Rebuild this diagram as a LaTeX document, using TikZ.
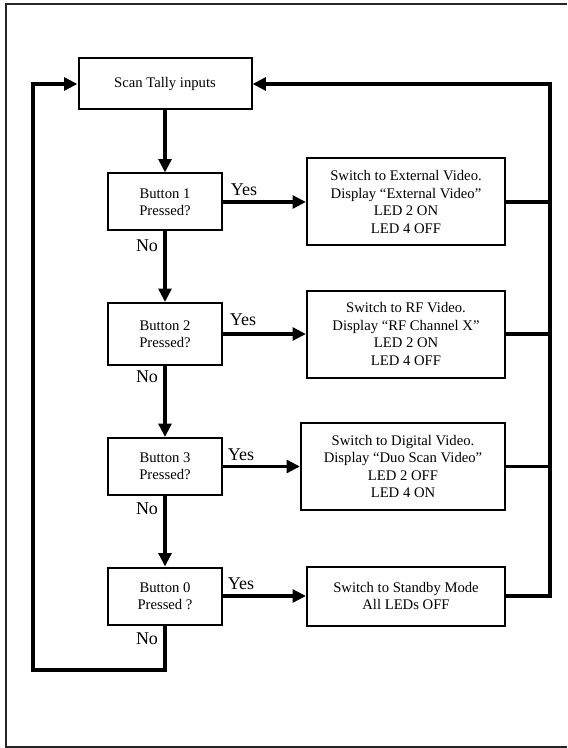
\documentclass[tikz,border=0pt]{standalone}
\usepackage{fontspec}
\setmainfont{Liberation Serif}
\usepackage{tikz}
\usetikzlibrary{arrows.meta, positioning}

\begin{document}
\begin{tikzpicture}[x=0.75pt, y=-0.75pt,
    box/.style={draw, line width=1.5pt, align=center, inner sep=2pt, font=\fontsize{11}{13.1}\selectfont},
    btnbox/.style={box, minimum width=85.5pt, minimum height=42.75pt},
    actbox/.style={box, minimum width=148.5pt, minimum height=65.25pt},
    conn/.style={line width=2.5pt},
    arr/.style={conn, -{Triangle[length=10pt, width=9.5pt]}},
    lbl/.style={font=\fontsize{13.5}{16}\selectfont, inner sep=0pt}
]
    \useasboundingbox (0,0) rectangle (567,748);

    % Page frame
    \draw[line width=1.5pt, black!85] (567,4) -| (6,747) -- (567,747);

    % Start
    \node[box, minimum width=129.75pt, minimum height=38.25pt] (scan) at (165,84) {Scan Tally inputs};

    % Button checks
    \node[btnbox] (b1) at (165,202) {Button 1\\Pressed?};
    \node[btnbox, minimum height=46.5pt] (b2) at (165,334) {Button 2\\Pressed?};
    \node[btnbox] (b3) at (165,466.5) {Button 3\\Pressed?};
    \node[btnbox] (b0) at (165,596) {Button 0\\Pressed ?};

    % Actions
    \node[actbox] (ext) at (406,202) {Switch to External Video.\\Display “External Video”\\LED 2 ON\\LED 4 OFF};
    \node[actbox] (rf) at (406,334) {Switch to RF Video.\\Display “RF Channel X”\\LED 2 ON\\LED 4 OFF};
    \node[actbox, minimum width=153pt] (dig) at (403,466.5) {Switch to Digital Video.\\Display “Duo Scan Video”\\LED 2 OFF\\LED 4 ON};
    \node[actbox, minimum height=44.25pt] (stby) at (406,596) {Switch to Standby Mode\\All LEDs OFF};

    % Yes / No labels
    \node[lbl] (y1) at (244,190) {Yes};
    \node[lbl] (y2) at (243,320) {Yes};
    \node[lbl] (y3) at (241,455) {Yes};
    \node[lbl] (y0) at (241,584) {Yes};
    \node[lbl] (n1) at (147,246) {No};
    \node[lbl] (n2) at (147,377) {No};
    \node[lbl] (n3) at (147,508.5) {No};
    \node[lbl] (n0) at (147,638.5) {No};

    % Corners of the return loops
    \coordinate (rail) at (550,84);
    \coordinate (loop) at (33,670);

    % Main flow
    \draw[arr] (scan) -- (b1);
    \draw[arr] (b1) -- (b2);
    \draw[arr] (b2) -- (b3);
    \draw[arr] (b3) -- (b0);
    \draw[arr] (b1) -- (ext);
    \draw[arr] (b2) -- (rf);
    \draw[arr] (b3) -- (dig);
    \draw[arr] (b0) -- (stby);

    % Return to scanning
    \draw[arr] (stby.east) -| (rail) -- (scan.east);
    \draw[conn] (ext.east) -- (ext.east -| rail);
    \draw[conn] (rf.east) -- (rf.east -| rail);
    \draw[conn] (dig.east) -- (dig.east -| rail);
    \draw[arr] (b0.south) |- (loop) |- (scan.west);
\end{tikzpicture}
\end{document}
